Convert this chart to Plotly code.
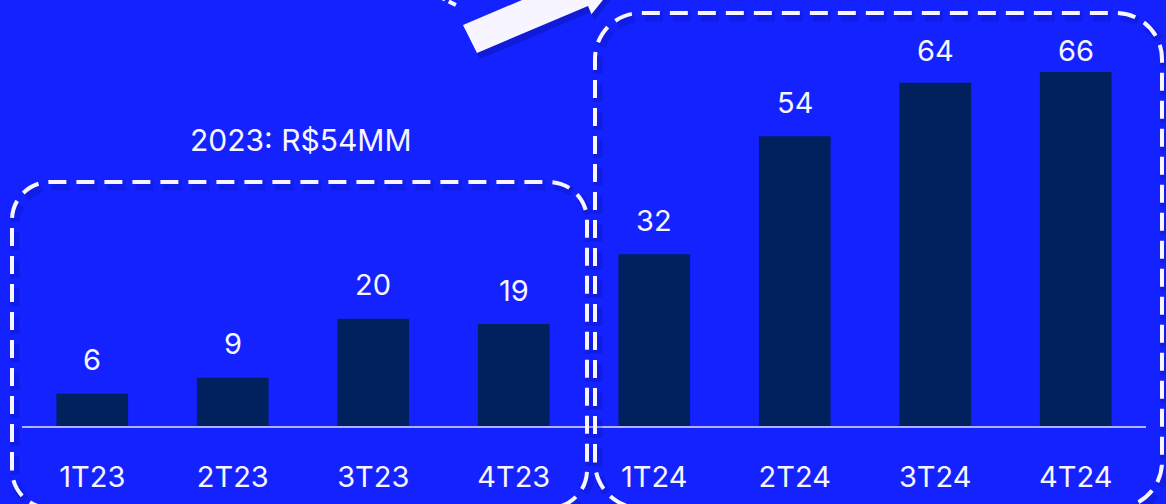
import plotly.graph_objects as go

# Quarterly values (R$ MM)
quarters = ["1T23", "2T23", "3T23", "4T23", "1T24", "2T24", "3T24", "4T24"]
values = [6, 9, 20, 19, 32, 54, 64, 66]
year_2023 = [v for q, v in zip(quarters, values) if q.endswith("23")]

BG = "#1322FF"
BAR = "#00215E"
AXIS = "#AEB4FF"
WHITE = "#F7F5FF"
FONT = "Inter"

W, H = 1166, 504
ML, MR, MT, MB = 22, 20, 0, 78
PW, PH = W - ML - MR, H - MT - MB
Y_MAX = 66 * PH / 354          # value range shown on the y axis
PX_PER_UNIT = PH / Y_MAX


def px(x, y):
    """Pixel position -> paper coordinates."""
    return (x - ML) / PW, (H - MB - y) / PH


def rounded_box(x0, y0, x1, y1, r, dx=0, dy=0):
    k = 0.5523 * r
    x0, x1, y0, y1 = x0 + dx, x1 + dx, y0 + dy, y1 + dy
    pts = [
        ("M", [(x0, y1 - r)]),
        ("L", [(x0, y0 + r)]),
        ("C", [(x0, y0 + r - k), (x0 + r - k, y0), (x0 + r, y0)]),
        ("L", [(x1 - r, y0)]),
        ("C", [(x1 - r + k, y0), (x1, y0 + r - k), (x1, y0 + r)]),
        ("L", [(x1, y1 - r)]),
        ("C", [(x1, y1 - r + k), (x1 - r + k, y1), (x1 - r, y1)]),
        ("L", [(x0 + r, y1)]),
        ("C", [(x0 + r - k, y1), (x0, y1 - r + k), (x0, y1 - r)]),
    ]
    out = []
    for cmd, ps in pts:
        coords = " ".join("%.5f,%.5f" % px(a, b) for a, b in ps)
        out.append(f"{cmd} {coords}")
    return " ".join(out)


def poly(points, dx=0, dy=0):
    s = " L ".join("%.5f,%.5f" % px(a + dx, b + dy) for a, b in points)
    return f"M {s} Z"


fig = go.Figure()
fig.add_bar(
    x=quarters,
    y=values,
    width=0.51,
    marker=dict(color=BAR, line=dict(width=0)),
    hoverinfo="skip",
)

# value labels above the bars, kept below the top edge of the slide
for q, v in zip(quarters, values):
    bar_top = PH - v * PX_PER_UNIT
    shift = min(34, bar_top - 50)
    fig.add_annotation(
        x=q, y=v, text=str(v), showarrow=False, yanchor="middle", yshift=shift,
        font=dict(family=FONT, size=29, color=WHITE),
    )

# 2023 total
x_t, y_t = px(301, 140)
fig.add_annotation(
    xref="paper", yref="paper", x=x_t, y=y_t,
    text=f"2023: R${sum(year_2023)}MM", showarrow=False,
    xanchor="center", yanchor="middle",
    font=dict(family=FONT, size=30, color=WHITE),
)

shapes = []
boxes = [(12, 182, 587, 508, 38), (595, 13, 1162, 508, 46)]
for x0, y0, x1, y1, r in boxes:
    shapes.append(dict(
        type="path", xref="paper", yref="paper", layer="above",
        path=rounded_box(x0, y0, x1, y1, r, 3, 4),
        line=dict(color="rgba(8,12,130,0.20)", width=9, dash="18px,10px"),
    ))
    shapes.append(dict(
        type="path", xref="paper", yref="paper", layer="above",
        path=rounded_box(x0, y0, x1, y1, r),
        line=dict(color=WHITE, width=4, dash="18px,10px"),
    ))

# arrow pointing up-right towards the 2024 box
arrow = [(463, 25), (477, 53), (588, 6), (591.5, 14.3), (623.5, -25.8),
         (572.5, -31), (576, -22.8)]
shapes.append(dict(
    type="path", xref="paper", yref="paper", layer="above",
    path=poly(arrow, 3, 6), fillcolor="rgba(8,12,120,0.30)", line=dict(width=0),
))
shapes.append(dict(
    type="path", xref="paper", yref="paper", layer="above",
    path=poly(arrow), fillcolor=WHITE, line=dict(width=0),
))
# tail of a dashed connector at the top edge
a0, b0 = px(438, -4)
a1, b1 = px(458, 6)
shapes.append(dict(
    type="line", xref="paper", yref="paper", x0=a0, y0=b0, x1=a1, y1=b1,
    line=dict(color=WHITE, width=4, dash="8px,4px"), layer="above",
))

fig.update_layout(
    width=W, height=H,
    margin=dict(l=ML, r=MR, t=MT, b=MB, pad=0),
    paper_bgcolor=BG, plot_bgcolor=BG,
    showlegend=False,
    bargap=0.49,
    shapes=shapes,
    font=dict(family=FONT, color=WHITE),
)
fig.update_xaxes(
    type="category", range=[-0.5, 7.5],
    showline=True, linecolor=AXIS, linewidth=2,
    showgrid=False, zeroline=False,
    ticks="outside", ticklen=0, tickcolor=BG,
    ticklabelstandoff=24,
    tickfont=dict(family=FONT, size=29, color=WHITE),
)
fig.update_yaxes(visible=False, range=[0, Y_MAX], fixedrange=True)

fig.write_html("out.html", config={"displayModeBar": False})
